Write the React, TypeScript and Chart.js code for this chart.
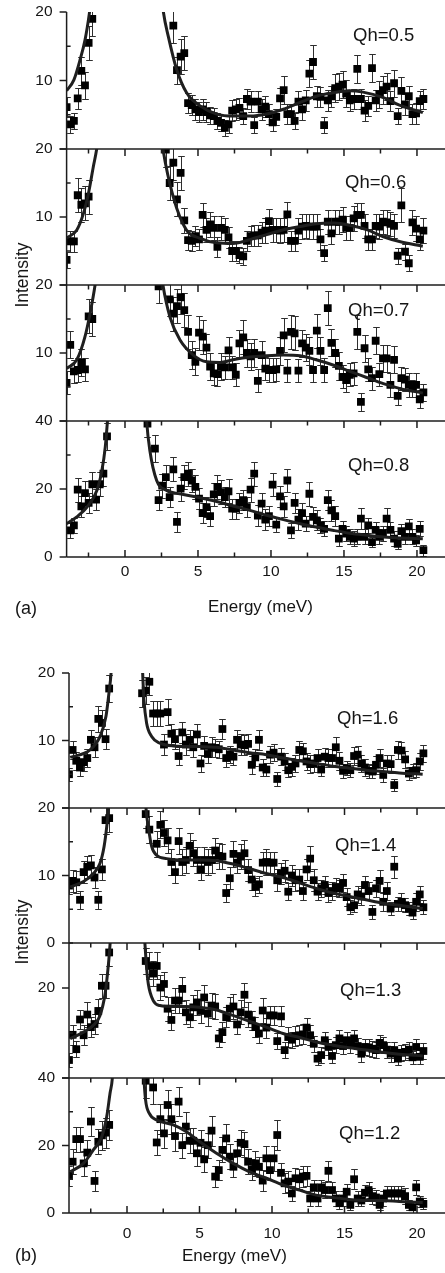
import React, { useEffect, useRef } from 'react';
import { Chart, registerables } from 'chart.js';

Chart.register(...registerables);

const _ = null;

// Energy grid of the measured points (meV)
const ENERGY_MEV = [
  -4.00, -3.75, -3.50, -3.24, -2.99, -2.74, -2.49, -2.24, -1.98, -1.73,
  -1.48, -1.23, -0.98, -0.72, -0.47, -0.22, 0.03, 0.28, 0.54, 0.79,
  1.04, 1.29, 1.54, 1.80, 2.05, 2.30, 2.55, 2.80, 3.06, 3.31,
  3.56, 3.81, 4.06, 4.32, 4.57, 4.82, 5.07, 5.32, 5.58, 5.83,
  6.08, 6.33, 6.58, 6.84, 7.09, 7.34, 7.59, 7.84, 8.10, 8.35,
  8.60, 8.85, 9.10, 9.36, 9.61, 9.86, 10.11, 10.36, 10.62, 10.87,
  11.12, 11.37, 11.62, 11.88, 12.13, 12.38, 12.63, 12.88, 13.14, 13.39,
  13.64, 13.89, 14.14, 14.40, 14.65, 14.90, 15.15, 15.40, 15.66, 15.91,
  16.16, 16.41, 16.66, 16.92, 17.17, 17.42, 17.67, 17.92, 18.18, 18.43,
  18.68, 18.93, 19.18, 19.44, 19.69, 19.94, 20.19, 20.44,
];

// ---------- Qh = 0.5 ----------
const Q05_I = [
  6.1, 3.6, 4.1, 7.4, 11.4, 9.3, 15.5, 19.0, _, _,
  _, _, _, _, _, _, _, _, _, _,
  _, _, _, _, _, _, _, _, _, 18.0,
  11.5, 13.5, 14.0, 6.7, 6.4, 5.8, 5.4, 5.8, 5.4, 4.9,
  4.8, 4.1, 3.8, 3.1, 3.6, 5.6, 5.8, 6.0, 4.8, 7.3,
  6.9, 3.5, 6.9, 5.8, 6.2, 5.1, 3.9, 4.7, 7.4, 8.6,
  5.1, 5.1, 4.1, 6.9, 5.8, 7.1, 11.0, 12.7, 7.7, 7.6,
  3.5, 7.1, 7.7, 8.9, 9.1, 9.4, 8.1, 7.1, 7.3, 11.7,
  7.3, 5.6, 6.3, 11.8, 7.1, 8.0, 8.6, 9.1, 7.0, 9.6,
  4.8, 8.5, 6.5, 7.7, 5.1, 5.2, 7.0, 7.3,
];
const Q05_ERR = [
  1.5, 1.2, 1.2, 1.5, 2.0, 2.0, 2.5, 2.5, _, _,
  _, _, _, _, _, _, _, _, _, _,
  _, _, _, _, _, _, _, _, _, 2.5,
  2.0, 2.5, 2.5, 1.5, 1.5, 1.5, 1.5, 1.5, 1.5, 1.2,
  1.2, 1.2, 1.2, 1.2, 1.2, 1.5, 1.5, 1.5, 1.2, 1.5,
  1.5, 1.2, 1.5, 1.5, 1.5, 1.5, 1.2, 1.2, 1.5, 2.0,
  1.5, 1.5, 1.2, 1.5, 1.5, 1.5, 2.0, 2.5, 1.5, 1.5,
  1.2, 1.5, 1.5, 2.0, 2.0, 2.0, 2.0, 1.5, 1.5, 2.0,
  1.5, 1.5, 1.5, 2.0, 1.5, 2.0, 2.0, 2.0, 1.5, 2.0,
  1.2, 2.0, 1.5, 1.5, 1.5, 1.5, 1.5, 1.5,
];
const Q05_FIT_LEFT_E = [-4.0, -3.5, -3.08, -2.74, -2.44, -2.2];
const Q05_FIT_LEFT_I = [8.5, 10.1, 13.0, 15.9, 19.8, 24.0];
const Q05_FIT_RIGHT_E = [2.45, 2.63, 2.97, 3.54, 4.22, 5.14, 6.28, 7.4, 8.56, 9.7, 10.85, 12.0, 13.1, 14.27, 15.4, 16.3, 17.7, 18.8, 20.4];
const Q05_FIT_RIGHT_I = [23.5, 20.0, 16.4, 11.6, 8.2, 6.3, 5.1, 4.8, 4.8, 5.1, 5.8, 6.8, 7.7, 8.2, 8.5, 8.3, 7.5, 6.4, 5.3];

// ---------- Qh = 0.6 ----------
const Q06_I = [
  3.7, 6.4, 6.4, 13.2, 11.8, 12.0, 13.0, _, _, _,
  _, _, _, _, _, _, _, _, _, _,
  _, _, _, _, _, _, _, 19.9, 15.0, 18.0,
  12.6, 16.5, 9.5, 6.6, 6.5, 7.2, 6.7, 10.3, 8.1, 8.9,
  8.4, 5.6, 8.4, 8.1, 7.0, 5.0, 5.0, 4.4, 4.2, 6.5,
  7.2, 7.3, 7.3, 7.7, 8.0, 9.4, 8.1, 8.1, 8.0, 8.1,
  10.4, 6.5, 6.5, 8.0, 8.6, 8.7, 8.6, 8.6, 8.6, 6.7,
  4.7, 9.3, 7.6, 9.3, 9.3, 9.6, 8.4, 8.4, 9.8, 10.3,
  10.3, 8.7, 6.7, 6.7, 8.7, 8.6, 9.3, 9.2, 9.0, 8.7,
  4.3, 11.7, 4.9, 3.2, 9.2, 8.3, 6.7, 8.0,
];
const Q06_ERR = [
  1.2, 1.5, 1.5, 2.5, 2.5, 2.5, 2.5, _, _, _,
  _, _, _, _, _, _, _, _, _, _,
  _, _, _, _, _, _, _, 2.5, 2.5, 2.5,
  2.5, 2.5, 1.8, 1.5, 1.5, 1.5, 1.5, 1.8, 1.8, 1.8,
  1.8, 1.5, 1.8, 1.8, 1.5, 1.5, 1.5, 1.2, 1.2, 1.5,
  1.5, 1.5, 1.5, 1.5, 1.8, 1.8, 1.8, 1.8, 1.8, 1.8,
  1.8, 1.5, 1.5, 1.8, 1.8, 1.8, 1.8, 1.8, 1.8, 1.5,
  1.2, 1.8, 1.5, 1.8, 1.8, 1.8, 1.8, 1.8, 1.8, 1.8,
  1.8, 1.8, 1.5, 1.5, 1.8, 1.8, 1.8, 1.8, 1.8, 1.8,
  1.2, 2.5, 1.2, 1.2, 1.8, 1.8, 1.5, 1.8,
];
const Q06_FIT_LEFT_E = [-4.0, -3.3, -2.85, -2.5, -2.17, -1.94, -1.8];
const Q06_FIT_LEFT_I = [6.9, 8.1, 10.5, 13.5, 17.4, 20.0, 22.5];
const Q06_FIT_RIGHT_E = [2.45, 2.6, 3.3, 4.2, 5.1, 6.3, 7.4, 8.6, 9.7, 10.8, 12.0, 13.1, 14.3, 15.4, 16.6, 17.7, 18.8, 20.4];
const Q06_FIT_RIGHT_I = [22.5, 20.0, 13.0, 8.1, 6.9, 6.2, 6.1, 6.7, 7.4, 8.1, 8.6, 9.0, 9.1, 8.8, 8.1, 7.1, 6.4, 5.7];

// ---------- Qh = 0.7 ----------
const Q07_I = [
  5.6, 11.2, 7.3, 7.5, 8.6, 7.6, 15.4, 15.0, _, _,
  _, _, _, _, _, _, _, _, _, _,
  _, _, _, _, _, 19.8, _, _, 17.9, 15.8,
  16.9, 18.2, 16.3, 13.1, 9.7, 8.7, 13.0, 12.4, 10.8, 8.0,
  7.0, 6.9, 8.0, 7.9, 10.4, 7.9, 6.8, 11.4, 12.3, 10.0,
  9.5, 10.0, 5.9, 9.7, 7.7, 7.5, 7.5, 7.6, 10.3, 12.6,
  7.4, 13.1, 12.9, 7.4, 11.4, 10.8, 10.3, 7.5, 13.3, 10.3,
  7.5, 16.6, 11.5, 10.0, 8.1, 6.5, 6.0, 6.8, 7.0, 13.1,
  2.8, 10.7, 7.6, 6.3, 11.8, 6.9, 9.2, 9.2, 5.3, 9.0,
  3.7, 6.3, 6.1, 5.3, 4.8, 5.3, 3.2, 4.2,
];
const Q07_ERR = [
  1.7, 2.0, 1.7, 1.7, 2.0, 1.7, 2.5, 2.5, _, _,
  _, _, _, _, _, _, _, _, _, _,
  _, _, _, _, _, 2.5, _, _, 2.5, 2.5,
  2.5, 2.5, 2.5, 2.5, 2.0, 2.0, 2.5, 2.5, 2.0, 2.0,
  1.7, 1.7, 2.0, 1.7, 2.0, 1.7, 1.7, 2.0, 2.5, 2.0,
  2.0, 2.0, 1.7, 2.0, 1.7, 1.7, 1.7, 1.7, 2.0, 2.5,
  1.7, 2.5, 2.5, 1.7, 2.0, 2.0, 2.0, 1.7, 2.5, 2.0,
  1.7, 2.5, 2.0, 2.0, 2.0, 1.7, 1.7, 1.7, 1.7, 2.5,
  1.3, 2.0, 1.7, 1.7, 2.0, 1.7, 2.0, 2.0, 1.7, 2.0,
  1.3, 1.7, 1.7, 1.7, 1.3, 1.7, 1.3, 1.3,
];
const Q07_FIT_LEFT_E = [-4.0, -3.3, -2.74, -2.35, -2.05, -1.9];
const Q07_FIT_LEFT_I = [7.7, 9.0, 12.4, 16.3, 20.0, 22.5];
const Q07_FIT_RIGHT_E = [2.45, 2.6, 3.08, 3.77, 4.68, 5.6, 6.5, 7.4, 8.56, 9.7, 10.85, 12.0, 13.1, 14.3, 15.4, 16.55, 17.7, 18.8, 20.4];
const Q07_FIT_RIGHT_I = [22.5, 20.0, 15.3, 11.9, 9.7, 8.7, 8.6, 9.0, 9.4, 9.6, 9.7, 9.6, 9.0, 8.2, 7.3, 6.4, 5.5, 4.8, 4.1];

// ---------- Qh = 0.8 ----------
const Q08_I = [
  _, 7.8, 9.3, 19.8, 14.9, 18.8, 15.9, 21.4, 16.9, 21.4,
  24.5, 35.5, _, _, _, _, _, _, _, _,
  _, _, 39.2, _, 31.9, 16.7, 21.0, 23.5, 17.6, 25.8,
  10.3, 20.1, 23.5, 24.5, 22.5, 20.6, 17.2, 12.9, 14.7, 12.0,
  18.4, 20.6, 19.1, 17.6, 19.3, 14.2, 14.2, 15.9, 16.7, 14.7,
  19.8, 24.5, 12.2, 15.7, 11.0, 12.0, 21.3, 9.5, 17.8, 14.9,
  22.5, 7.8, 15.9, 11.0, 12.9, 9.8, 18.6, 11.8, 10.8, 9.3,
  8.3, 16.7, 13.7, 12.0, 5.4, 8.3, 6.9, 5.9, 5.4, 5.9,
  11.3, 5.9, 9.3, 4.4, 8.0, 5.9, 7.0, 11.3, 8.0, 5.4,
  3.9, 7.6, 5.9, 9.0, 5.9, 4.9, 8.3, 2.0,
];
const Q08_ERR = [
  _, 2.2, 2.2, 3.5, 3.0, 3.5, 3.0, 3.5, 3.0, 3.5,
  3.5, 4.0, _, _, _, _, _, _, _, _,
  _, _, 4.0, _, 4.0, 3.0, 3.5, 3.5, 3.0, 3.5,
  3.0, 3.5, 3.5, 3.5, 3.5, 3.5, 3.0, 3.0, 3.0, 3.0,
  3.5, 3.5, 3.5, 3.0, 3.5, 3.0, 3.0, 3.0, 3.0, 3.0,
  3.5, 3.5, 3.0, 3.0, 3.0, 3.0, 3.5, 2.2, 3.0, 3.0,
  3.5, 2.2, 3.0, 3.0, 3.0, 2.2, 3.5, 3.0, 3.0, 2.2,
  2.2, 3.0, 3.0, 3.0, 2.2, 2.2, 2.2, 2.2, 2.2, 2.2,
  3.0, 2.2, 2.2, 1.6, 2.2, 2.2, 2.2, 3.0, 2.2, 2.2,
  1.6, 2.2, 2.2, 2.2, 2.2, 1.6, 2.2, 1.6,
];
const Q08_FIT_LEFT_E = [-4.0, -3.3, -2.6, -1.92, -1.58, -1.35, -1.2, -1.1];
const Q08_FIT_LEFT_I = [9.8, 11.8, 14.7, 19.6, 25.5, 32.4, 40.0, 46.0];
const Q08_FIT_RIGHT_E = [1.4, 1.48, 1.7, 2.17, 2.85, 4.0, 5.14, 6.28, 7.4, 8.56, 9.7, 10.85, 12.0, 13.1, 14.3, 15.4, 16.6, 17.7, 18.8, 20.4];
const Q08_FIT_RIGHT_I = [46.0, 40.0, 31.4, 22.5, 19.6, 18.4, 17.4, 16.3, 15.0, 13.7, 12.3, 11.0, 9.8, 8.8, 7.8, 7.0, 6.4, 5.9, 5.6, 5.4];

// ---------- Qh = 1.6 ----------
const Q16_I = [
  5.0, 8.6, 7.0, 6.0, 6.8, 7.4, 10.1, 9.0, 13.2, 12.6,
  10.2, 17.7, _, _, _, _, _, _, _, _,
  17.0, 17.4, 18.7, 14.0, 14.0, 14.0, 9.4, 14.2, 11.0, 10.2,
  7.7, 11.2, 9.4, 10.1, 9.0, 10.9, 6.6, 9.2, 8.0, 9.0,
  8.9, 8.7, 11.7, 7.4, 7.9, 7.6, 10.1, 9.4, 9.3, 9.5,
  6.4, 7.5, 10.1, 6.0, 5.7, 7.9, 8.2, 4.3, 7.6, 6.9,
  5.6, 6.1, 6.6, 8.6, 8.4, 6.9, 6.5, 6.6, 7.4, 5.7,
  7.6, 7.4, 7.4, 9.0, 7.0, 5.5, 5.9, 5.6, 7.7, 7.9,
  6.6, 6.0, 5.5, 5.4, 6.4, 7.4, 4.9, 6.6, 6.5, 3.4,
  8.6, 8.5, 7.2, 5.1, 5.5, 5.6, 6.9, 8.1,
];
const Q16_ERR = [
  1.0, 1.3, 1.3, 1.3, 1.3, 1.3, 1.5, 1.5, 1.9, 1.9,
  1.5, 2.0, _, _, _, _, _, _, _, _,
  2.0, 2.0, 2.0, 1.9, 1.9, 1.9, 1.5, 1.9, 1.5, 1.5,
  1.3, 1.5, 1.5, 1.5, 1.5, 1.5, 1.3, 1.5, 1.3, 1.5,
  1.3, 1.3, 1.5, 1.3, 1.3, 1.3, 1.5, 1.5, 1.5, 1.5,
  1.3, 1.3, 1.5, 1.3, 1.0, 1.3, 1.3, 1.0, 1.3, 1.3,
  1.0, 1.3, 1.3, 1.3, 1.3, 1.3, 1.3, 1.3, 1.3, 1.0,
  1.3, 1.3, 1.3, 1.5, 1.3, 1.0, 1.0, 1.0, 1.3, 1.3,
  1.3, 1.3, 1.0, 1.0, 1.3, 1.3, 1.0, 1.3, 1.3, 0.9,
  1.3, 1.3, 1.3, 1.0, 1.0, 1.0, 1.3, 1.3,
];
const Q16_FIT_LEFT_E = [-3.92, -2.55, -1.86, -1.45, -1.22, -1.10, -1.04];
const Q16_FIT_LEFT_I = [7.5, 8.6, 10.6, 13.6, 17.5, 20.0, 23.0];
const Q16_FIT_RIGHT_E = [1.03, 1.08, 1.17, 1.35, 1.70, 2.27, 3.19, 5.02, 6.17, 7.32, 8.46, 9.61, 10.76, 11.9, 13.05, 14.2, 15.34, 16.49, 17.64, 18.78, 20.39];
const Q16_FIT_RIGHT_I = [23.0, 20.0, 16.0, 12.6, 10.6, 9.6, 9.2, 9.1, 9.0, 8.6, 8.2, 7.9, 7.4, 7.0, 6.6, 6.2, 5.9, 5.6, 5.4, 5.2, 5.0];

// ---------- Qh = 1.4 ----------
const Q14_I = [
  8.5, 9.2, 9.0, 6.4, 10.5, 11.3, 11.5, 9.7, 6.4, 10.9,
  18.2, 18.5, _, _, _, _, _, _, _, _,
  _, 19.1, 16.8, _, 14.7, 17.5, 16.3, 15.2, 12.0, 10.5,
  15.1, 12.0, 12.3, 14.4, 13.3, 12.3, 10.9, 12.3, 12.0, 12.3,
  13.7, 12.9, 12.8, 7.4, 9.6, 13.2, 11.9, 12.8, 13.3, 10.8,
  9.4, 8.3, 8.7, 11.9, 12.0, 11.9, 11.9, 9.3, 10.3, 10.7,
  7.6, 10.0, 9.3, 9.4, 7.7, 10.9, 12.5, 9.3, 7.6, 8.1,
  8.6, 7.4, 7.7, 8.3, 8.1, 8.9, 6.8, 5.3, 5.6, 7.2,
  6.9, 8.6, 7.7, 4.6, 8.1, 9.2, 6.1, 7.7, 5.1, 11.3,
  5.8, 6.1, 5.6, 5.1, 4.5, 6.1, 7.2, 5.3,
];
const Q14_ERR = [
  1.3, 1.6, 1.6, 1.3, 1.6, 1.6, 1.6, 1.6, 1.3, 1.6,
  2.0, 2.0, _, _, _, _, _, _, _, _,
  _, 2.0, 2.0, _, 1.9, 2.0, 1.9, 1.9, 1.9, 1.6,
  1.9, 1.9, 1.9, 1.9, 1.9, 1.9, 1.6, 1.9, 1.9, 1.9,
  1.9, 1.9, 1.9, 1.3, 1.6, 1.9, 1.6, 1.9, 1.9, 1.6,
  1.6, 1.3, 1.3, 1.6, 1.9, 1.6, 1.6, 1.6, 1.6, 1.6,
  1.3, 1.6, 1.6, 1.6, 1.3, 1.6, 1.9, 1.6, 1.3, 1.3,
  1.3, 1.3, 1.3, 1.3, 1.3, 1.3, 1.3, 1.0, 1.0, 1.3,
  1.3, 1.3, 1.3, 1.0, 1.3, 1.6, 1.3, 1.3, 1.0, 1.6,
  1.0, 1.3, 1.0, 1.0, 1.0, 1.3, 1.3, 1.0,
];
const Q14_FIT_LEFT_E = [-3.92, -3.0, -2.32, -1.86, -1.58, -1.4, -1.28, -1.22];
const Q14_FIT_LEFT_I = [8.3, 9.1, 10.3, 11.8, 14.3, 17.2, 20.0, 23.0];
const Q14_FIT_RIGHT_E = [1.25, 1.31, 1.47, 1.70, 2.04, 2.73, 3.88, 5.02, 6.17, 7.32, 8.46, 9.61, 10.76, 11.9, 13.05, 14.2, 15.34, 16.49, 17.64, 18.78, 20.39];
const Q14_FIT_RIGHT_I = [23.0, 20.0, 17.2, 14.3, 13.0, 12.5, 12.3, 12.3, 12.2, 11.7, 11.0, 10.3, 9.7, 8.9, 8.1, 7.4, 6.9, 6.4, 5.9, 5.6, 5.1];

// ---------- Qh = 1.3 ----------
const Q13_I = [
  4.0, 9.6, 6.4, 13.0, 9.5, 14.1, 11.3, 12.0, 14.9, 20.5,
  20.5, 27.9, _, _, _, _, _, _, _, _,
  _, 26.0, 24.9, 23.2, 24.9, 20.1, 20.9, 15.4, 12.9, 17.2,
  17.2, 19.8, 14.6, 13.5, 15.7, 16.8, 14.9, 17.9, 14.3, 16.1,
  15.9, 8.8, 10.2, 13.5, 15.4, 15.9, 11.9, 14.6, 18.5, 14.1,
  12.8, 11.3, 9.9, 15.0, 11.2, 13.9, 13.9, 8.2, 13.7, 6.2,
  9.1, 8.5, 9.3, 9.5, 9.7, 11.2, 9.5, 7.6, 4.3, 5.1,
  8.4, 6.9, 4.9, 7.3, 8.8, 7.1, 8.4, 7.4, 8.8, 7.1,
  5.4, 6.9, 6.8, 6.5, 6.2, 7.8, 7.3, 6.3, 5.4, 6.2,
  4.3, 5.6, 5.8, 6.3, 4.6, 6.9, 4.7, 6.0,
];
const Q13_ERR = [
  1.5, 2.2, 1.8, 2.2, 2.2, 2.7, 2.2, 2.2, 2.7, 2.7,
  2.7, 3.0, _, _, _, _, _, _, _, _,
  _, 3.0, 3.0, 2.7, 3.0, 2.7, 2.7, 2.7, 2.2, 2.7,
  2.7, 2.7, 2.7, 2.2, 2.7, 2.7, 2.7, 2.7, 2.7, 2.7,
  2.7, 1.8, 2.2, 2.2, 2.7, 2.7, 2.2, 2.7, 2.7, 2.7,
  2.2, 2.2, 2.2, 2.7, 2.2, 2.2, 2.2, 1.8, 2.2, 1.8,
  2.2, 1.8, 2.2, 2.2, 2.2, 2.2, 2.2, 1.8, 1.5, 1.8,
  1.8, 1.8, 1.5, 1.8, 1.8, 1.8, 1.8, 1.8, 1.8, 1.8,
  1.8, 1.8, 1.8, 1.8, 1.8, 1.8, 1.8, 1.8, 1.8, 1.8,
  1.5, 1.8, 1.8, 1.8, 1.5, 1.8, 1.5, 1.8,
];
const Q13_FIT_LEFT_E = [-3.92, -3.0, -2.32, -1.86, -1.51, -1.28, -1.17, -1.1];
const Q13_FIT_LEFT_I = [8.75, 10.2, 11.7, 13.9, 18.7, 25.3, 29.7, 33.0];
const Q13_FIT_RIGHT_E = [1.18, 1.24, 1.35, 1.47, 1.81, 2.27, 3.19, 4.1, 5.0, 6.17, 7.3, 8.46, 9.6, 10.76, 11.9, 13.05, 14.2, 15.34, 16.5, 17.6, 18.8, 20.4];
const Q13_FIT_RIGHT_I = [33.0, 29.7, 24.5, 20.9, 17.2, 16.1, 15.9, 15.9, 15.7, 15.1, 13.9, 12.6, 11.3, 9.9, 9.0, 8.0, 7.3, 6.7, 6.2, 5.7, 5.3, 4.9];

// ---------- Qh = 1.2 ----------
const Q12_I = [
  11.0, 15.2, 21.9, 21.9, 14.7, 17.9, 27.1, 9.5, 21.1, 23.0,
  23.8, 26.1, _, _, _, _, _, _, _, _,
  _, 39.2, _, 37.2, 20.9, 27.8, 23.6, 32.0, 27.8, 22.8,
  33.0, 20.1, 25.6, 21.4, 21.4, 17.7, 20.8, 15.9, 20.1, 24.4,
  10.8, 12.7, 18.7, 22.1, 16.7, 13.7, 17.7, 20.8, 20.4, 15.2,
  12.9, 14.7, 13.7, 9.6, 16.2, 12.7, 16.2, 23.1, 11.9, 8.8,
  9.3, 5.8, 10.3, 10.0, 10.8, 11.0, 4.3, 7.6, 4.3, 7.6,
  6.8, 12.5, 6.8, 4.3, 2.9, 4.3, 6.3, 2.4, 10.0, 4.3,
  3.7, 6.0, 6.8, 5.0, 4.6, 2.4, 4.3, 5.8, 5.8, 5.8,
  5.8, 5.8, 5.0, 2.4, 1.7, 7.6, 3.4, 2.7,
];
const Q12_ERR = [
  3.0, 3.7, 3.7, 3.7, 3.7, 3.7, 4.4, 3.0, 3.7, 4.4,
  4.4, 4.4, _, _, _, _, _, _, _, _,
  _, 5.0, _, 5.0, 3.7, 4.4, 4.4, 4.4, 4.4, 4.4,
  4.4, 3.7, 4.4, 3.7, 3.7, 3.7, 3.7, 3.7, 3.7, 4.4,
  3.0, 3.0, 3.7, 4.4, 3.7, 3.0, 3.7, 3.7, 3.7, 3.7,
  3.0, 3.7, 3.0, 3.0, 3.7, 3.0, 3.7, 4.4, 3.0, 3.0,
  3.0, 2.3, 3.0, 3.0, 3.0, 3.0, 2.3, 2.3, 2.3, 2.3,
  2.3, 3.0, 2.3, 2.3, 1.6, 2.3, 2.3, 1.6, 3.0, 2.3,
  1.6, 2.3, 2.3, 2.3, 2.3, 1.6, 2.3, 2.3, 2.3, 2.3,
  2.3, 2.3, 2.3, 1.6, 1.6, 2.3, 1.6, 1.6,
];
const Q12_FIT_LEFT_E = [-3.92, -3.0, -2.32, -1.74, -1.4, -1.17, -1.01, -0.95];
const Q12_FIT_LEFT_I = [12.2, 14.7, 18.7, 22.6, 28.5, 35.5, 40.0, 45.0];
const Q12_FIT_RIGHT_E = [1.12, 1.17, 1.28, 1.54, 2.04, 3.19, 4.1, 5.02, 6.17, 7.32, 8.46, 9.61, 10.76, 11.9, 13.05, 14.2, 15.34, 16.49, 17.64, 18.78, 20.39];
const Q12_FIT_RIGHT_I = [46.0, 40.0, 33.5, 29.5, 27.6, 26.1, 24.1, 21.1, 17.7, 14.7, 12.2, 10.3, 8.3, 6.8, 5.3, 4.6, 4.0, 3.7, 3.7, 3.4, 3.1];

// Axis ticks
const X_MAJOR = [0, 5, 10, 15, 20];
const X_MINOR = [-2.5, 2.5, 7.5, 12.5, 17.5];
const Y_MAJOR_20 = [0, 10, 20];
const Y_MINOR_20 = [5, 15];
const Y_MAJOR_40 = [0, 20, 40];
const Y_MINOR_40 = [10, 30];
const Y_MAJOR_30 = [0, 20];
const Y_MINOR_30 = [10, 30];

type Series = (number | null)[];

interface PanelSpec {
  name: string;
  intensity: Series;
  error: Series;
  fitLeftE: number[];
  fitLeftI: number[];
  fitRightE: number[];
  fitRightI: number[];
  yMax: number;
  yMajor: number[];
  yMinor: number[];
  yLabelled: number[];
}

const PANEL_DATA: PanelSpec[] = [
  { name: 'Qh=0.5', intensity: Q05_I, error: Q05_ERR, fitLeftE: Q05_FIT_LEFT_E, fitLeftI: Q05_FIT_LEFT_I, fitRightE: Q05_FIT_RIGHT_E, fitRightI: Q05_FIT_RIGHT_I, yMax: 20, yMajor: Y_MAJOR_20, yMinor: Y_MINOR_20, yLabelled: [10, 20] },
  { name: 'Qh=0.6', intensity: Q06_I, error: Q06_ERR, fitLeftE: Q06_FIT_LEFT_E, fitLeftI: Q06_FIT_LEFT_I, fitRightE: Q06_FIT_RIGHT_E, fitRightI: Q06_FIT_RIGHT_I, yMax: 20, yMajor: Y_MAJOR_20, yMinor: Y_MINOR_20, yLabelled: [10, 20] },
  { name: 'Qh=0.7', intensity: Q07_I, error: Q07_ERR, fitLeftE: Q07_FIT_LEFT_E, fitLeftI: Q07_FIT_LEFT_I, fitRightE: Q07_FIT_RIGHT_E, fitRightI: Q07_FIT_RIGHT_I, yMax: 20, yMajor: Y_MAJOR_20, yMinor: Y_MINOR_20, yLabelled: [10, 20] },
  { name: 'Qh=0.8', intensity: Q08_I, error: Q08_ERR, fitLeftE: Q08_FIT_LEFT_E, fitLeftI: Q08_FIT_LEFT_I, fitRightE: Q08_FIT_RIGHT_E, fitRightI: Q08_FIT_RIGHT_I, yMax: 40, yMajor: Y_MAJOR_40, yMinor: Y_MINOR_40, yLabelled: [0, 20, 40] },
  { name: 'Qh=1.6', intensity: Q16_I, error: Q16_ERR, fitLeftE: Q16_FIT_LEFT_E, fitLeftI: Q16_FIT_LEFT_I, fitRightE: Q16_FIT_RIGHT_E, fitRightI: Q16_FIT_RIGHT_I, yMax: 20, yMajor: Y_MAJOR_20, yMinor: Y_MINOR_20, yLabelled: [10, 20] },
  { name: 'Qh=1.4', intensity: Q14_I, error: Q14_ERR, fitLeftE: Q14_FIT_LEFT_E, fitLeftI: Q14_FIT_LEFT_I, fitRightE: Q14_FIT_RIGHT_E, fitRightI: Q14_FIT_RIGHT_I, yMax: 20, yMajor: Y_MAJOR_20, yMinor: Y_MINOR_20, yLabelled: [0, 10, 20] },
  { name: 'Qh=1.3', intensity: Q13_I, error: Q13_ERR, fitLeftE: Q13_FIT_LEFT_E, fitLeftI: Q13_FIT_LEFT_I, fitRightE: Q13_FIT_RIGHT_E, fitRightI: Q13_FIT_RIGHT_I, yMax: 30, yMajor: Y_MAJOR_30, yMinor: Y_MINOR_30, yLabelled: [20] },
  { name: 'Qh=1.2', intensity: Q12_I, error: Q12_ERR, fitLeftE: Q12_FIT_LEFT_E, fitLeftI: Q12_FIT_LEFT_I, fitRightE: Q12_FIT_RIGHT_E, fitRightI: Q12_FIT_RIGHT_I, yMax: 40, yMajor: Y_MAJOR_40, yMinor: Y_MINOR_40, yLabelled: [0, 20, 40] },
];

interface PanelLayout {
  top: number;
  bottom: number;
  left: number;
  xMax: number;
  first: boolean;
  last: boolean;
  xLabelPad: number;
  nameX: number;
  nameY: number;
}

const PANEL_LAYOUT: PanelLayout[] = [
  { top: 12, bottom: 149, left: 66.6, xMax: 21.92, first: true, last: false, xLabelPad: 5, nameX: 353, nameY: 35 },
  { top: 149, bottom: 285, left: 66.6, xMax: 21.92, first: false, last: false, xLabelPad: 5, nameX: 345, nameY: 182 },
  { top: 285, bottom: 421, left: 66.6, xMax: 21.92, first: false, last: false, xLabelPad: 5, nameX: 348, nameY: 310 },
  { top: 421, bottom: 557, left: 66.6, xMax: 21.92, first: false, last: true, xLabelPad: 5, nameX: 348, nameY: 465 },
  { top: 673, bottom: 808, left: 69, xMax: 21.93, first: true, last: false, xLabelPad: 11, nameX: 337, nameY: 718 },
  { top: 808, bottom: 943, left: 69, xMax: 21.93, first: false, last: false, xLabelPad: 11, nameX: 335, nameY: 845 },
  { top: 943, bottom: 1078, left: 69, xMax: 21.93, first: false, last: false, xLabelPad: 11, nameX: 340, nameY: 990 },
  { top: 1078, bottom: 1213, left: 69, xMax: 21.93, first: false, last: true, xLabelPad: 11, nameX: 339, nameY: 1133 },
];

const FONT = "'Liberation Sans', Arial, Helvetica, sans-serif";
const AXIS_COLOR = '#1c1c1c';
const TEXT_COLOR = '#151515';
const FIT_COLOR = '#1f1f1f';
const ERR_COLOR = '#2e2e2e';
const PAD = 30; // canvas margin above/below each plot area
const X_AXIS_H = 36;
const WIDTH = 445;
const TICK_FONT_SIZE = 15.5;
const Y_LABEL_PAD = 14;
const MARKER_RADIUS = 5.5;
const CAP_HALF = 3.3;

function PanelChart({ spec, layout }: { spec: PanelSpec; layout: PanelLayout }) {
  const ref = useRef<HTMLCanvasElement | null>(null);
  const plotH = layout.bottom - layout.top;
  const height = PAD + plotH + (layout.last ? X_AXIS_H : PAD);

  useEffect(() => {
    const canvas = ref.current;
    if (!canvas) return;

    const points: { x: number; y: number }[] = [];
    spec.intensity.forEach((v, i) => {
      if (v !== null) points.push({ x: ENERGY_MEV[i], y: v });
    });
    const fitLeft = spec.fitLeftE.map((e, i) => ({ x: e, y: spec.fitLeftI[i] }));
    const fitRight = spec.fitRightE.map((e, i) => ({ x: e, y: spec.fitRightI[i] }));

    const bounds = (chart: any) => {
      const xs = chart.scales.x;
      const ys = chart.scales.y;
      return {
        xs,
        ys,
        L: xs.getPixelForValue(-4),
        R: xs.getPixelForValue(layout.xMax),
        T: ys.getPixelForValue(spec.yMax),
        B: ys.getPixelForValue(0),
      };
    };

    const errorBars = {
      id: 'errorBars',
      beforeDatasetsDraw(chart: any) {
        const { ctx } = chart;
        const { xs, ys, L, R, T, B } = bounds(chart);
        ctx.save();
        ctx.beginPath();
        ctx.rect(L, T, R - L, B - T);
        ctx.clip();
        ctx.strokeStyle = ERR_COLOR;
        ctx.lineWidth = 1;
        ctx.beginPath();
        spec.intensity.forEach((v, i) => {
          const e = spec.error[i];
          if (v === null || e === null) return;
          const px = Math.round(xs.getPixelForValue(ENERGY_MEV[i])) + 0.5;
          const y1 = Math.round(ys.getPixelForValue(v + e)) + 0.5;
          const y2 = Math.round(ys.getPixelForValue(v - e)) + 0.5;
          ctx.moveTo(px, y1);
          ctx.lineTo(px, y2);
          ctx.moveTo(px - CAP_HALF, y1);
          ctx.lineTo(px + CAP_HALF, y1);
          ctx.moveTo(px - CAP_HALF, y2);
          ctx.lineTo(px + CAP_HALF, y2);
        });
        ctx.stroke();
        ctx.restore();
      },
    };

    const axes = {
      id: 'panelAxes',
      afterDraw(chart: any) {
        const { ctx } = chart;
        const { xs, ys, L, R, T, B } = bounds(chart);
        ctx.save();
        ctx.strokeStyle = AXIS_COLOR;
        ctx.lineWidth = 1.5;
        ctx.lineCap = 'butt';
        const seg = (x1: number, y1: number, x2: number, y2: number) => {
          ctx.beginPath();
          ctx.moveTo(x1, y1);
          ctx.lineTo(x2, y2);
          ctx.stroke();
        };
        seg(L, T, L, B);
        if (!layout.first) seg(L, T, R, T);
        if (layout.last) seg(L, B, R, B);
        for (const v of spec.yMajor) {
          const py = ys.getPixelForValue(v);
          seg(L - 7, py, L, py);
        }
        for (const v of spec.yMinor) {
          const py = ys.getPixelForValue(v);
          seg(L, py, L + 4, py);
        }
        const xTicks = (vals: number[], len: number) => {
          for (const v of vals) {
            const px = xs.getPixelForValue(v);
            if (!layout.first) seg(px, T, px, T + len);
            if (layout.last) seg(px, B, px, B - len);
          }
        };
        xTicks(X_MAJOR, 7);
        xTicks(X_MINOR, 4.5);
        ctx.restore();
      },
    };

    const xScale: any = {
      type: 'linear',
      min: -4,
      max: layout.xMax,
      display: layout.last,
      grid: { display: false, drawTicks: false },
      border: { display: false },
      afterBuildTicks: (s: any) => {
        s.ticks = X_MAJOR.map((v) => ({ value: v }));
      },
      ticks: {
        padding: layout.xLabelPad,
        autoSkip: false,
        maxRotation: 0,
        color: TEXT_COLOR,
        font: { family: FONT, size: TICK_FONT_SIZE },
        callback: (v: any) => String(v),
      },
    };
    if (layout.last) {
      xScale.afterFit = (s: any) => {
        s.height = X_AXIS_H;
      };
    }

    const chart = new Chart(canvas, {
      type: 'scatter',
      data: {
        datasets: [
          {
            data: fitLeft,
            showLine: true,
            borderColor: FIT_COLOR,
            borderWidth: 3,
            pointRadius: 0,
            cubicInterpolationMode: 'monotone',
            fill: false,
          } as any,
          {
            data: fitRight,
            showLine: true,
            borderColor: FIT_COLOR,
            borderWidth: 3,
            pointRadius: 0,
            cubicInterpolationMode: 'monotone',
            fill: false,
          } as any,
          {
            data: points,
            showLine: false,
            pointStyle: 'rect',
            pointRadius: MARKER_RADIUS,
            pointBackgroundColor: '#000000',
            pointBorderWidth: 0,
            borderWidth: 0,
          } as any,
        ],
      },
      options: {
        animation: false,
        responsive: false,
        devicePixelRatio: 1,
        events: [],
        layout: { autoPadding: false, padding: { top: PAD, bottom: layout.last ? 0 : PAD, left: 0, right: 0 } },
        plugins: { legend: { display: false }, tooltip: { enabled: false } },
        scales: {
          x: xScale,
          y: {
            type: 'linear',
            min: 0,
            max: spec.yMax,
            grid: { display: false, drawTicks: false },
            border: { display: false },
            afterBuildTicks: (s: any) => {
              s.ticks = spec.yMajor.map((v) => ({ value: v }));
            },
            afterFit: (s: any) => {
              s.width = layout.left;
            },
            ticks: {
              padding: Y_LABEL_PAD,
              autoSkip: false,
              color: TEXT_COLOR,
              font: { family: FONT, size: TICK_FONT_SIZE },
              callback: (v: any) => (spec.yLabelled.includes(Number(v)) ? String(v) : ''),
            },
          },
        },
      } as any,
      plugins: [errorBars, axes],
    });
    return () => chart.destroy();
  }, [spec, layout]);

  return (
    <canvas
      ref={ref}
      width={WIDTH}
      height={height}
      style={{ position: 'absolute', left: 0, top: layout.top - PAD, width: WIDTH, height }}
    />
  );
}

const textBase: React.CSSProperties = {
  position: 'absolute',
  fontFamily: FONT,
  color: TEXT_COLOR,
  whiteSpace: 'nowrap',
  lineHeight: '20px',
};

export default function App() {
  return (
    <div
      style={{
        position: 'absolute',
        left: 0,
        top: 0,
        width: WIDTH,
        height: 1273,
        background: '#ffffff',
        overflow: 'hidden',
      }}
    >
      {PANEL_DATA.map((spec, i) => (
        <PanelChart key={spec.name} spec={spec} layout={PANEL_LAYOUT[i]} />
      ))}
      {PANEL_DATA.map((spec, i) => (
        <div
          key={'lbl' + spec.name}
          style={{ ...textBase, fontSize: 18.5, left: PANEL_LAYOUT[i].nameX, top: PANEL_LAYOUT[i].nameY - 10 }}
        >
          {spec.name}
        </div>
      ))}
      <div style={{ ...textBase, fontSize: 17.5, width: 100, textAlign: 'center', left: 22.4 - 50, top: 275 - 10, transform: 'rotate(-90deg)' }}>
        Intensity
      </div>
      <div style={{ ...textBase, fontSize: 17.5, width: 100, textAlign: 'center', left: 22.4 - 50, top: 932 - 10, transform: 'rotate(-90deg)' }}>
        Intensity
      </div>
      <div style={{ ...textBase, fontSize: 17, left: 208, top: 597 }}>Energy (meV)</div>
      <div style={{ ...textBase, fontSize: 17, left: 182, top: 1246 }}>Energy (meV)</div>
      <div style={{ ...textBase, fontSize: 18, left: 15, top: 598 }}>(a)</div>
      <div style={{ ...textBase, fontSize: 18, left: 15, top: 1245 }}>(b)</div>
    </div>
  );
}
